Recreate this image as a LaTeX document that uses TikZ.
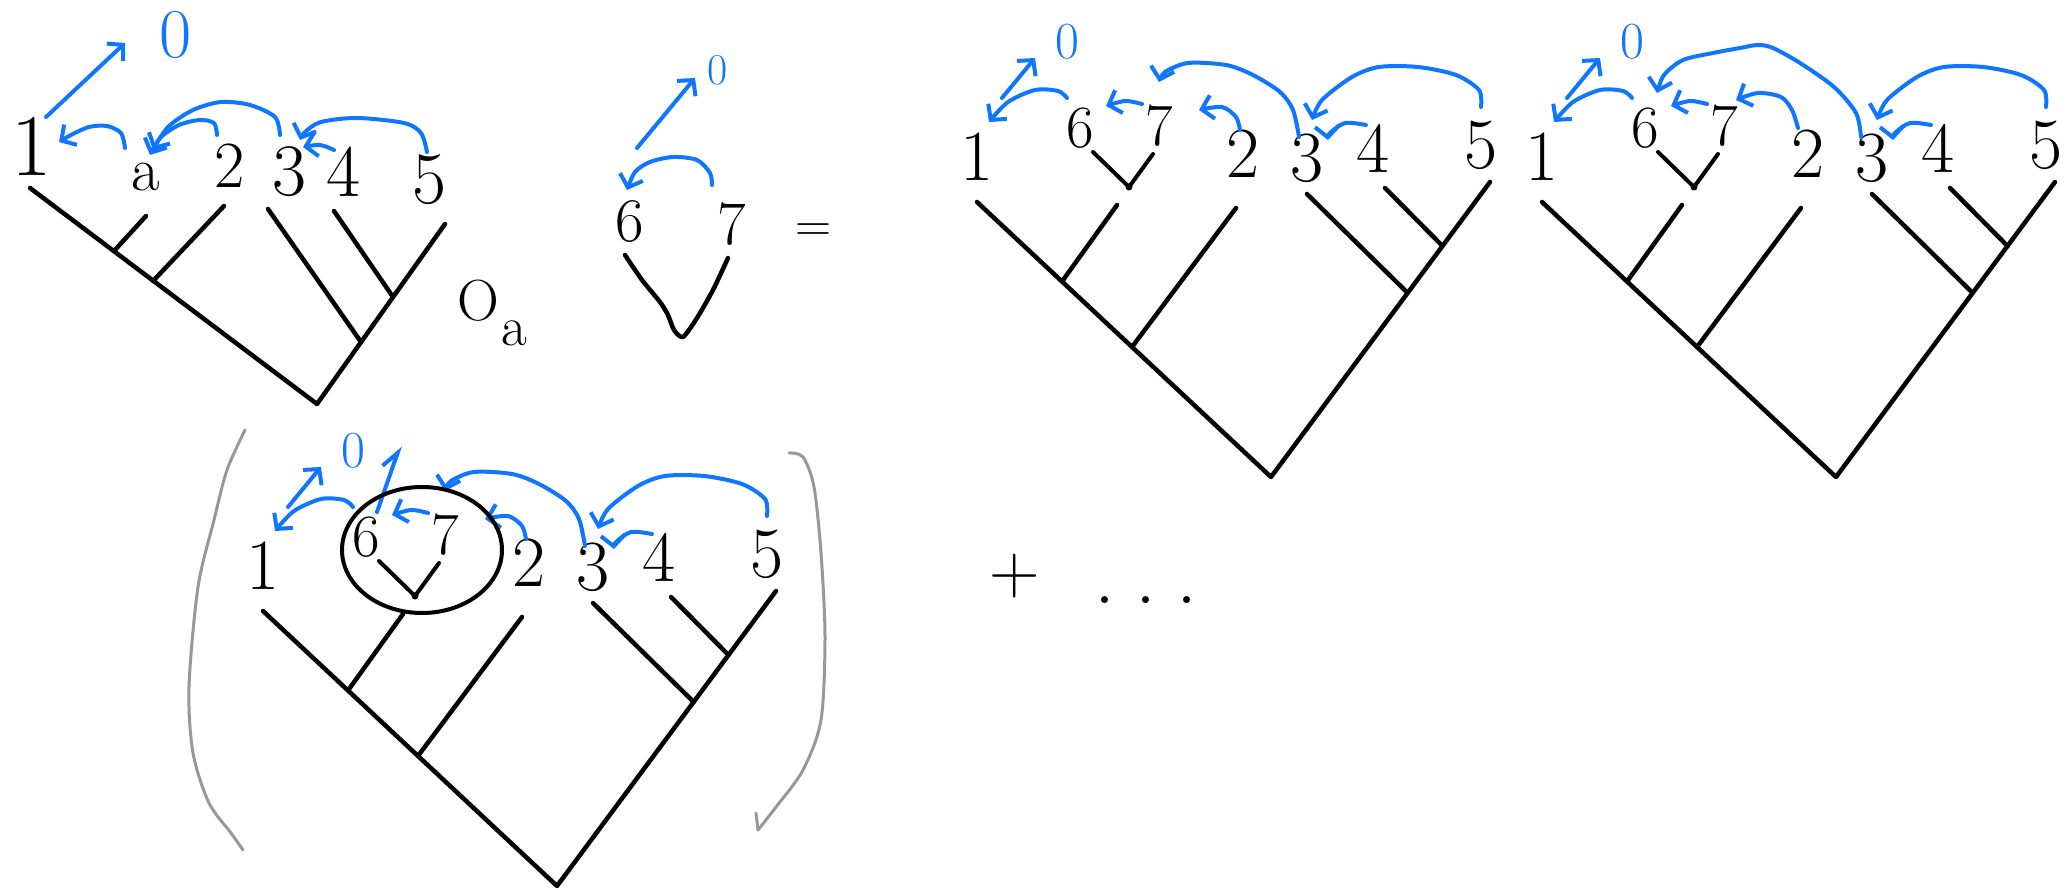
\documentclass[tikz,border=0pt]{standalone}
\usepackage{fontspec}
\usetikzlibrary{arrows.meta}
\definecolor{pen}{RGB}{14,118,255}
\definecolor{pencil}{RGB}{152,152,152}
\tikzset{
  branch/.style={draw=black, line width=4.5pt, line cap=round, line join=round},
  bluearrow/.style={draw=pen, line width=4pt, line cap=round, line join=round,
    -{Straight Barb[length=11pt,width=24pt]}},
  halfarrow/.style={draw=pen, line width=4pt, line cap=round,
    -{Straight Barb[left,length=17pt,width=20pt]}},
  paren/.style={draw=pencil, line width=3pt, line cap=round, line join=round},
  digit/.style={inner sep=0pt, font=\fontsize{72}{72}\selectfont},
  smalldigit/.style={inner sep=0pt, font=\fontsize{60}{60}\selectfont},
  zero/.style={inner sep=0pt, text=pen, font=\fontsize{52}{52}\selectfont},
}
% seven-leaf tree 1 (6 7) 2 3 4 5, drawn in its own frame
\newcommand\septet[1]{%
  \coordinate (#1-r)  at (1271,477);
  \coordinate (#1-l1) at (977,202);
  \coordinate (#1-l6) at (1117,205);
  \coordinate (#1-l2) at (1236,208);
  \coordinate (#1-l3) at (1307,194);
  \coordinate (#1-l4) at (1385,188);
  \coordinate (#1-l5) at (1490,182);
  \coordinate (#1-a)  at (1062,281.5);
  \coordinate (#1-b)  at (1132,347);
  \coordinate (#1-c)  at (1407.7,293);
  \coordinate (#1-d)  at (1442.5,246);
  \draw[branch] (#1-l1) -- (#1-r) -- (#1-l5);
  \draw[branch] (#1-l6) -- (#1-a);
  \draw[branch] (#1-l2) -- (#1-b);
  \draw[branch] (#1-l3) -- (#1-c);
  \draw[branch] (#1-l4) -- (#1-d);
  \node[digit] (#1-n1) at (977,157) {1};
  \node[smalldigit] (#1-n6) at (1080,128) {6};
  \node[smalldigit] (#1-n7) at (1159,126) {7};
  \node[digit] (#1-n2) at (1243,154) {2};
  \node[digit] (#1-n3) at (1307,158) {3};
  \node[digit] (#1-n4) at (1373,148) {4};
  \node[digit] (#1-n5) at (1481,145) {5};
  \coordinate (#1-v1) at (1093,152);
  \coordinate (#1-v0) at (1129,187);
  \coordinate (#1-v2) at (1153,154);
  \draw[branch, line width=4pt] (#1-v1) -- (#1-v0) -- (#1-v2);
  \fill (#1-v0) circle (3.5);
  \node[zero] (#1-zero) at (1067,42) {0};
  \draw[bluearrow] (1002,98) -- (1035,58);
  \draw[bluearrow] plot[smooth] coordinates {(1067,98) (1058,91) (1035,90) (1008,102) (989,122)};
  \draw[bluearrow] plot[smooth] coordinates {(1142,104) (1125,101) (1106,106)};
  \draw[bluearrow] plot[smooth] coordinates {(1366,125) (1345,123) (1330,133) (1328,140)};
  \draw[bluearrow] plot[smooth] coordinates {(1481,107) (1479,90) (1456,75) (1418,67) (1379,67) (1352,77) (1322,100) (1312,120)};
}
\begin{document}
\begin{tikzpicture}[x=1pt,y=-1pt]
\useasboundingbox (0,0) rectangle (2070,890);

% ---- tree 1 a 2 3 4 5 ----
\coordinate (t1-l1) at (30,188);
\coordinate (t1-r)  at (317,404);
\coordinate (t1-la) at (146,216);
\coordinate (t1-a)  at (114,251);
\coordinate (t1-l2) at (224,206);
\coordinate (t1-b)  at (153,281);
\coordinate (t1-l3) at (268,209);
\coordinate (t1-c)  at (361,342);
\coordinate (t1-l4) at (334,211);
\coordinate (t1-d)  at (393,297);
\coordinate (t1-l5) at (445,224);
\draw[branch] (t1-l1) -- (t1-r) -- (t1-l5);
\draw[branch] (t1-la) -- (t1-a);
\draw[branch] (t1-l2) -- (t1-b);
\draw[branch] (t1-l3) -- (t1-c);
\draw[branch] (t1-l4) -- (t1-d);
\node[digit, font=\fontsize{88}{88}\selectfont] (t1-n1) at (32,146) {1};
\node[digit, font=\fontsize{62}{62}\selectfont] (t1-na) at (146,177) {a};
\node[digit, font=\fontsize{66}{66}\selectfont] (t1-n2) at (230,166) {2};
\node[digit, font=\fontsize{74}{74}\selectfont] (t1-n3) at (289,172) {3};
\node[digit, font=\fontsize{74}{74}\selectfont] (t1-n4) at (343,172) {4};
\node[digit, font=\fontsize{74}{74}\selectfont] (t1-n5) at (429,180) {5};
\node[zero, font=\fontsize{70}{70}\selectfont] (t1-zero) at (176,35) {0};
\draw[bluearrow] (46,117) -- (125,43);
\draw[bluearrow] plot[smooth] coordinates {(125,148) (121,133) (107,126) (89,127) (71,135) (59,142)};
\draw[bluearrow] plot[smooth] coordinates {(217,135) (214,123) (200,120) (179,125) (160,138) (150,155)};
\draw[bluearrow] plot[smooth] coordinates {(280,135) (275,117) (250,105) (221,102) (193,110) (168,127) (153,150)};
\draw[bluearrow] plot[smooth] coordinates {(334,150) (320,145) (303,147)};
\draw[bluearrow] plot[smooth] coordinates {(427,152) (421,133) (404,123) (357,118) (321,122) (305,132) (300,140)};

% operation symbol O_a
\node[inner sep=0pt, font=\fontsize{58}{58}\selectfont] (oa-o) at (478,301) {O};
\node[inner sep=0pt, font=\fontsize{56}{56}\selectfont] (oa-a) at (514,333) {a};

% ---- the two-leaf tree 6 7 ----
\node[zero, font=\fontsize{44}{44}\selectfont] (p-zero) at (718,70) {0};
\draw[bluearrow] (637,148) -- (695,78);
\draw[bluearrow] plot[smooth] coordinates {(712,185) (710,173) (697,160) (673,157) (650,162) (635,172) (627,190)};
\node[smalldigit, font=\fontsize{62}{62}\selectfont] (p-n6) at (630,222) {6};
\node[smalldigit, font=\fontsize{62}{62}\selectfont] (p-n7) at (732,224) {7};
\coordinate (p-v1) at (625,255);
\coordinate (p-v0) at (683,337);
\coordinate (p-v2) at (728,258);
\draw[branch] plot[smooth, tension=0.4] coordinates {(p-v1) (642,280) (660,302) (668,315) (674,330) (p-v0) (697,318) (713,290) (p-v2)};
\node[inner sep=0pt, font=\fontsize{50}{50}\selectfont] (eq) at (813,233) {=};

% ---- first grafting ----
\begin{scope}
  \septet{t2}
  \draw[bluearrow] plot[smooth] coordinates {(1240,130) (1236,117) (1222,107) (1199,110)};
  \draw[bluearrow] plot[smooth] coordinates {(1299,137) (1293,110) (1280,92) (1253,75) (1226,65) (1188,63) (1165,72) (1159,82)};
\end{scope}

% ---- second grafting ----
\begin{scope}[shift={(565,0)}]
  \septet{t3}
  \draw[bluearrow] plot[smooth] coordinates {(1233,128) (1227,110) (1216,97) (1193,93) (1171,100)};
  \draw[bluearrow] plot[smooth] coordinates {(1296,137) (1291,113) (1269,87) (1235,63) (1208,48) (1193,45) (1175,48) (1148,53) (1118,60) (1099,75) (1092,93)};
\end{scope}

% ---- bracketed grafting with the circled pair ----
\begin{scope}[shift={(-714,409)}]
  \septet{t4}
  \draw[bluearrow] plot[smooth] coordinates {(1240,130) (1236,117) (1222,107) (1199,110)};
  \draw[bluearrow] plot[smooth] coordinates {(1299,137) (1293,110) (1280,92) (1253,75) (1226,65) (1188,63) (1165,72) (1159,82)};
  \draw[halfarrow] (1091,103) -- (1114,37);
  \draw[branch, line width=4pt] (1136,141) ellipse [x radius=80, y radius=63];
\end{scope}

% brackets
\draw[paren] plot[smooth] coordinates {(245,430) (227,470) (214,520) (198,587) (189,687) (193,753) (209,803) (231,833) (243,850)};
\draw[paren] plot[smooth] coordinates {(789,453) (803,457) (814,487) (821,553) (825,637) (821,720) (803,770) (776,807) (758,830)};
\draw[paren] (756,813) -- (758,830);

% "+ ..."
\node[inner sep=0pt, font=\fontsize{70}{70}\selectfont] (plus) at (1015,576) {+};
\node[inner sep=0pt, anchor=base, font=\fontsize{84}{84}\selectfont] (dots) at (1146,603) {.\hspace{20pt}.\hspace{20pt}.};
\end{tikzpicture}
\end{document}
